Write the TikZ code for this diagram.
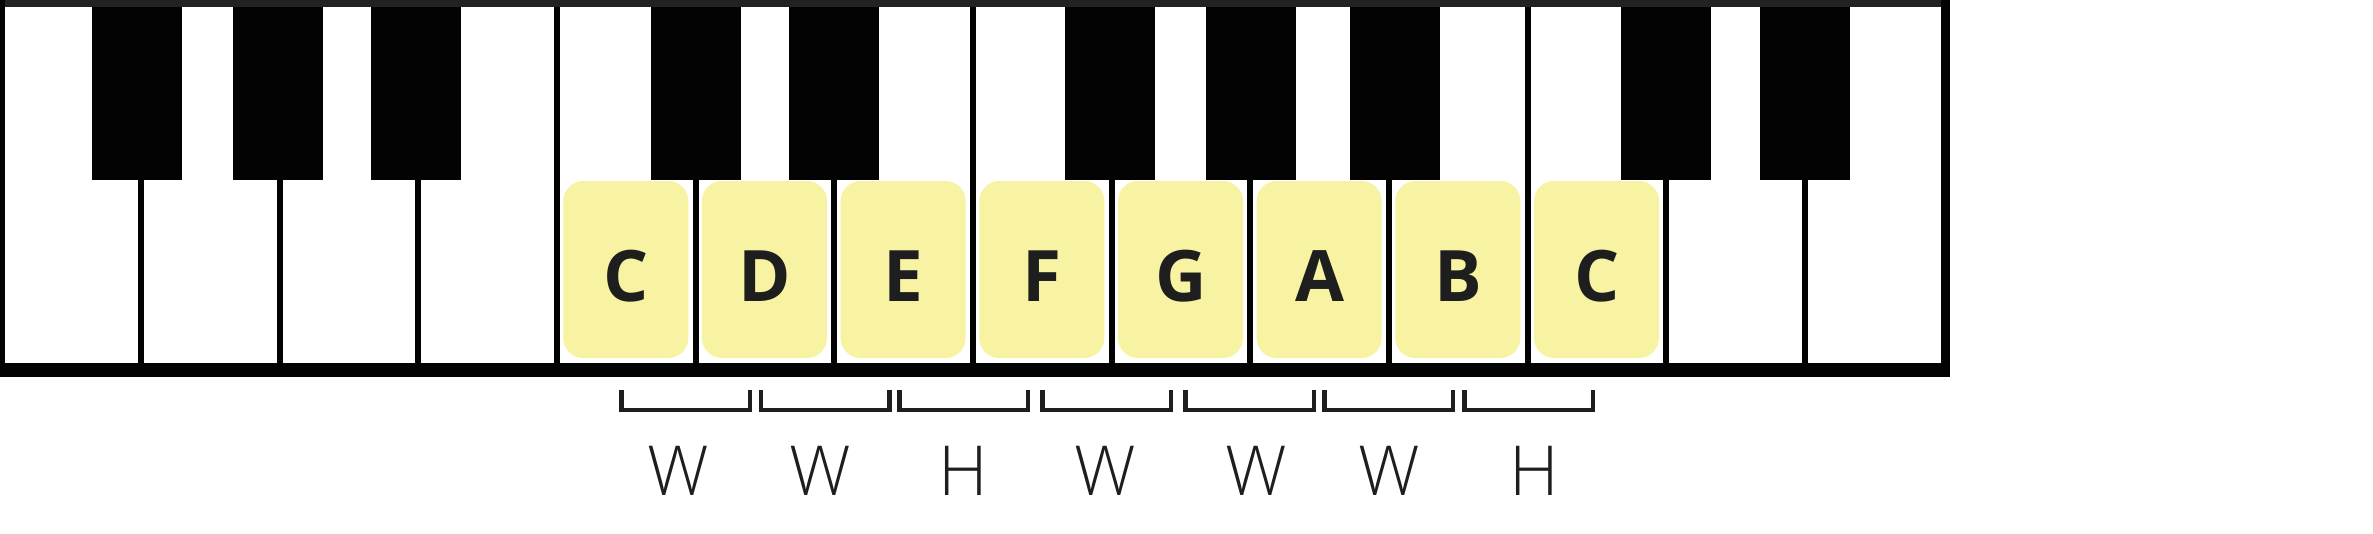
\documentclass[tikz,border=0pt]{standalone}
\usepackage{fontspec}
\setmainfont{Open Sans}
\newfontfamily\lightfont{Open Sans Light}
\definecolor{keyyellow}{HTML}{F8F2A3}
\definecolor{inkdark}{HTML}{1E1E1E}
\definecolor{topgray}{HTML}{222222}
\definecolor{keyblack}{HTML}{030303}
\begin{document}
\begin{tikzpicture}[x=1pt,y=-1pt,
  blackkey/.style={fill=keyblack,draw=none},
  divider/.style={draw=keyblack,line width=6pt},
  notebox/.style={fill=keyyellow,draw=none,rounded corners=20pt,minimum width=125pt,minimum height=177pt,inner sep=0pt,outer sep=0pt},
  notelabel/.style={anchor=base,inner sep=0pt,text=inkdark,font=\fontsize{71}{80}\selectfont\bfseries},
  stepmark/.style={draw=inkdark,line width=4.5pt,line join=miter},
  steplabel/.style={anchor=base,inner sep=0pt,text=inkdark,font=\lightfont\fontsize{69}{78}\selectfont}]
\useasboundingbox (0,0) rectangle (2373,533);
\fill[white] (0,0) rectangle (2373,533);
% keyboard body
\fill[white] (0,0) rectangle (1950,376.7);
% dividers: full height where no black key
\foreach \i in {4,7,11}{
  \draw[divider] ({2.3+138.67*\i},6.7) -- ({2.3+138.67*\i},363);
}
% dividers under black keys, and the black keys (with small offsets)
\foreach \i/\o in {1/-3.5,2/-2,3/-2.5,5/0,6/0,8/-2,9/1,10/5.5,12/0,13/0}{
  \draw[divider] ({2.3+138.67*\i},180) -- ({2.3+138.67*\i},363);
  \fill[blackkey] ({2.3+138.67*\i+\o-45},6.7) rectangle ({2.3+138.67*\i+\o+45},180);
}
% frame
\fill[topgray] (0,0) rectangle (1950,6.7);
\fill[keyblack] (0,0) rectangle (4.7,376.7);
\fill[keyblack] (1941,0) rectangle (1950,376.7);
\fill[keyblack] (0,362.7) rectangle (1950,376.7);
% highlighted notes
\foreach \k/\t [count=\n] in {5/C,6/D,7/E,8/F,9/G,10/A,11/B,12/C}{
  \node[notebox] (box\n) at ({2.3+138.67*(\k-0.5)-0.5},269.5) {};
  \node[notelabel] (note\n) at ({2.3+138.67*(\k-0.5)},301) {\t};
}
% step brackets
\foreach \s/\c/\t [count=\n] in {619/678/W,758.5/820/W,897/963/H,1040/1105/W,1183/1256/W,1322/1389/W,1462/1534.6/H}{
  \draw[stepmark] (\s+2.3,390) -- (\s+2.3,409.8) -- (\s+131.2,409.8) -- (\s+131.2,390);
  \node[steplabel] (step\n) at (\c,495.5) {\t};
}
\end{tikzpicture}
\end{document}
